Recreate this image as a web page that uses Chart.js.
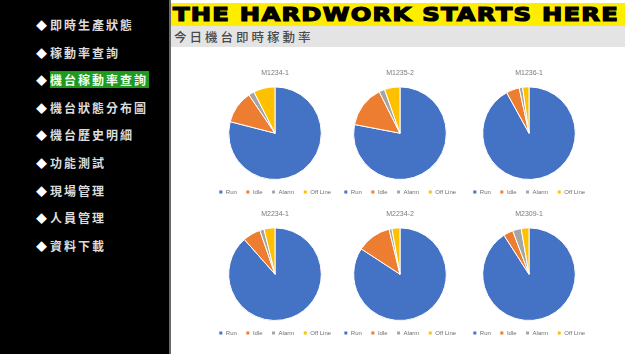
<!DOCTYPE html>
<html>
<head>
<meta charset="utf-8">
<script src="https://cdn.jsdelivr.net/npm/chart.js@4.4.1/dist/chart.umd.min.js"></script>
<style>
  html, body { margin: 0; padding: 0; width: 625px; height: 354px; overflow: hidden; background: #fff; }
  #side { position: absolute; left: 0; top: 0; width: 169px; height: 354px; background: #000; }
  #side .item { position: absolute; left: 36px; height: 16px; line-height: 16px; white-space: nowrap;
    font-family: "Noto Sans CJK TC", sans-serif; font-weight: 700; font-size: 12px; color: #dcdcdc; letter-spacing: 2px; }
  #side .item .dia { display: inline-block; width: 14px; font-size: 11px; letter-spacing: 0; color: #fff; }
  #side .item.on .txt { background: #1f9a1f; color: #f2fff2; padding: 0 1px 0 0; }
  #edge { position: absolute; left: 169px; top: 0; width: 2px; height: 354px; background: #6a6a6a; }
  #banner { position: absolute; left: 171px; top: 3px; width: 454px; height: 23px; background: #ffed00; overflow: hidden; }
  #banner span { position: absolute; left: 2px; top: -1px; font-family: "DejaVu Sans", sans-serif; font-weight: 900;
    font-size: 19px; line-height: 25px; color: #000; -webkit-text-stroke: 1.2px #000; transform-origin: 0 50%; white-space: nowrap; letter-spacing: 1px; }
  #strip { position: absolute; left: 171px; top: 26px; width: 454px; height: 21px; background: #e4e4e4; }
  #strip span { position: absolute; left: 3px; top: 2px; font-family: "Noto Sans CJK TC", sans-serif; font-size: 12.5px;
    line-height: 17px; color: #4a4a4a; letter-spacing: 3px; font-weight: 500; }
  canvas { position: absolute; }
</style>
</head>
<body>
<div id="side"></div>
<div id="edge"></div>
<div id="banner"><span id="bannerText">THE HARDWORK STARTS HERE</span></div>
<div id="strip"><span>今日機台即時稼動率</span></div>
<script>
// Sidebar menu entries
const menuItems = ["即時生產狀態", "稼動率查詢", "機台稼動率查詢", "機台狀態分布圖", "機台歷史明細", "功能測試", "現場管理", "人員管理", "資料下載"];
const activeMenu = 2;

// Machine status categories and per-machine shares (%)
const statusLabels = ["Run", "Idle", "Alarm", "Off Line"];
const statusColors = ["#4472C4", "#ED7D31", "#A5A5A5", "#FFC000"];
const machines = ["M1234-1", "M1235-2", "M1236-1", "M2234-1", "M2234-2", "M2309-1"];
const runShare   = [79.0, 78.0, 92.0, 88.5, 84.2, 90.9];
const idleShare  = [11.5, 14.6, 4.6, 6.2, 12.0, 3.4];
const alarmShare = [2.0, 2.0, 1.2, 1.5, 1.0, 3.0];
const offShare   = [7.5, 5.4, 2.2, 3.8, 2.8, 2.7];

// Build sidebar
const side = document.getElementById("side");
menuItems.forEach((t, i) => {
  const d = document.createElement("div");
  d.className = "item" + (i === activeMenu ? " on" : "");
  d.style.top = (17 + i * 27.6) + "px";
  d.innerHTML = '<span class="dia">◆</span><span class="txt">' + t + '</span>';
  side.appendChild(d);
});

// Stretch the banner headline across the yellow bar
const bt = document.getElementById("bannerText");
bt.style.transform = "scaleX(" + (446 / bt.getBoundingClientRect().width) + ")";

// Grid of pie panels
const colCenters = [275, 400, 529];
const pieTops = [86, 227];
const canvasW = 132, canvasH = 140;

machines.forEach((name, i) => {
  const col = i % 3, row = Math.floor(i / 3);
  const c = document.createElement("canvas");
  c.width = canvasW; c.height = canvasH;
  c.style.left = (colCenters[col] - canvasW / 2) + "px";
  c.style.top = (pieTops[row] - 21.4) + "px";
  c.style.width = canvasW + "px"; c.style.height = canvasH + "px";
  document.body.appendChild(c);
  new Chart(c, {
    type: "pie",
    data: {
      labels: statusLabels,
      datasets: [{
        data: [runShare[i], idleShare[i], alarmShare[i], offShare[i]],
        backgroundColor: statusColors,
        borderColor: "#ffffff",
        borderWidth: 1
      }]
    },
    options: {
      responsive: false,
      animation: false,
      devicePixelRatio: 1,
      layout: { padding: 0 },
      plugins: {
        title: {
          display: true, text: name, color: "#7a7a7a",
          font: { family: "Liberation Sans, Arial, sans-serif", size: 7, weight: "normal" },
          padding: { top: 4, bottom: 9 }
        },
        legend: {
          display: true, position: "bottom",
          labels: {
            color: "#6f6f6f", boxWidth: 4, boxHeight: 4, padding: 9,
            font: { family: "Liberation Sans, Arial, sans-serif", size: 6 }
          }
        },
        tooltip: { enabled: false }
      }
    }
  });
});
</script>
</body>
</html>
